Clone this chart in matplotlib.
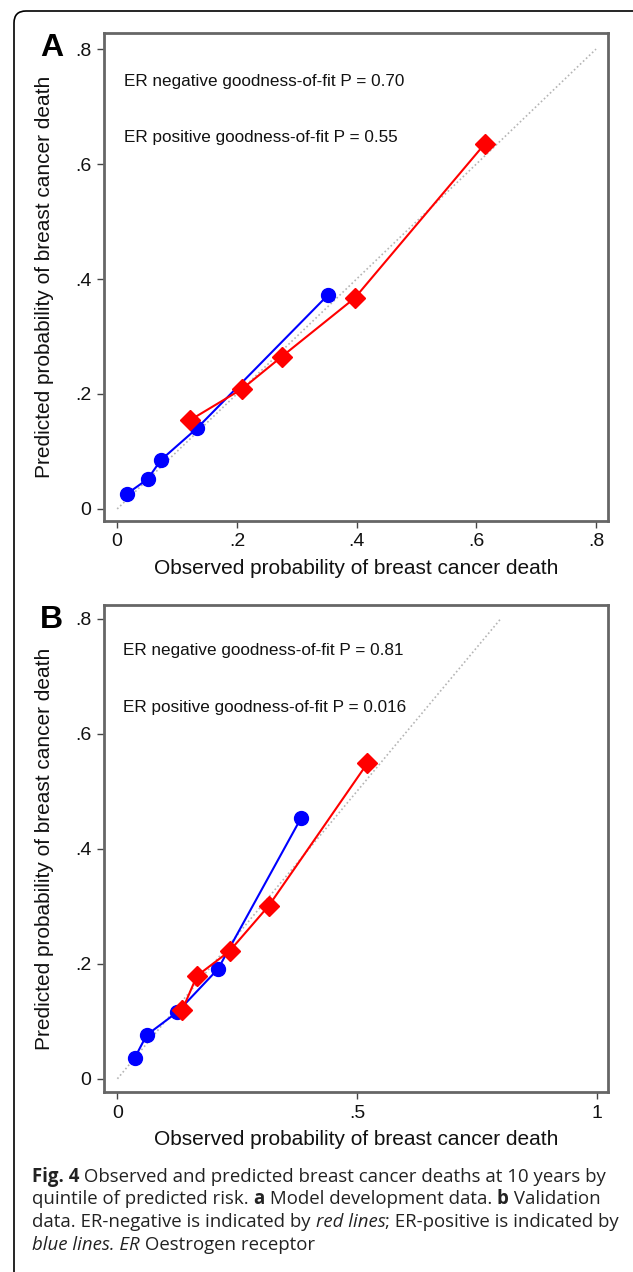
#!/usr/bin/env python
"""
Calibration plots: observed vs predicted breast cancer deaths (panels A and B).
"""

import matplotlib
matplotlib.use("Agg")
import matplotlib.pyplot as plt
from matplotlib.patches import FancyBboxPatch
from matplotlib.transforms import IdentityTransform

# panel A - model development data
a_pos_obs = [0.016, 0.051, 0.073, 0.133, 0.352]
a_pos_pred = [0.026, 0.052, 0.085, 0.140, 0.372]
a_neg_obs = [0.121, 0.209, 0.275, 0.397, 0.614]
a_neg_pred = [0.154, 0.209, 0.265, 0.367, 0.635]
a_xticks = [0, 0.2, 0.4, 0.6, 0.8]
a_xlabels = ["0", ".2", ".4", ".6", ".8"]
a_ptext = ["ER negative goodness-of-fit P = 0.70", "ER positive goodness-of-fit P = 0.55"]

# panel B - validation data
b_pos_obs = [0.036, 0.061, 0.125, 0.210, 0.383]
b_pos_pred = [0.036, 0.076, 0.116, 0.191, 0.453]
b_neg_obs = [0.135, 0.166, 0.234, 0.316, 0.522]
b_neg_pred = [0.119, 0.179, 0.222, 0.301, 0.549]
b_xticks = [0, 0.5, 1]
b_xlabels = ["0", ".5", "1"]
b_ptext = ["ER negative goodness-of-fit P = 0.81", "ER positive goodness-of-fit P = 0.016"]

yticks = [0, 0.2, 0.4, 0.6, 0.8]
ylabels = ["0", ".2", ".4", ".6", ".8"]
diag = [0, 0.8]

caption = [
    [("Fig. 4", "bold"), (" Observed and predicted breast cancer deaths at 10 years by", None)],
    [("quintile of predicted risk. ", None), ("a", "bold"), (" Model development data. ", None),
     ("b", "bold"), (" Validation", None)],
    [("data. ER-negative is indicated by ", None), ("red lines", "italic"),
     ("; ER-positive is indicated by", None)],
    [("blue lines. ER", "italic"), (" Oestrogen receptor", None)],
]

W, H = 633, 1272
FONT = "Liberation Sans"
CAPFONT = "Open Sans"


def panel(fig, rect, letter, pos_obs, pos_pred, neg_obs, neg_pred, xticks, xlabels, xlim, ylim, ptext):
    ax = fig.add_axes(rect)
    ax.plot(diag, diag, color="#b5b5b5", linestyle=(0, (1, 1.5)), lw=1.2, zorder=1)
    ax.plot(pos_obs, pos_pred, color="#0000ff", lw=1.5, marker="o", ms=10, zorder=2)
    ax.plot(neg_obs, neg_pred, color="#ff0000", lw=1.5, marker="D", ms=10, zorder=3)
    ax.set_xlim(*xlim)
    ax.set_ylim(*ylim)
    ax.set_xticks(xticks)
    ax.set_xticklabels(xlabels)
    ax.set_yticks(yticks)
    ax.set_yticklabels(ylabels)
    ax.tick_params(direction="out", length=5, width=1, color="#444444", pad=4,
                   labelsize=14, labelcolor="#111111")
    for lab in ax.get_xticklabels() + ax.get_yticklabels():
        lab.set_family(FONT)
    for s in ax.spines.values():
        s.set_color("#666666")
        s.set_linewidth(2)
    ax.set_xlabel("Observed probability of breast cancer death", family=FONT, fontsize=15, color="#111111")
    ax.set_ylabel("Predicted probability of breast cancer death", family=FONT, fontsize=15, color="#111111")
    ax.xaxis.set_label_coords(0.5, -0.078)
    ax.yaxis.set_label_coords(-0.1, 0.5)
    ax.text(0.011, 0.744, ptext[0], family=FONT, fontsize=12.3, va="center", color="#111111")
    ax.text(0.011, 0.646, ptext[1], family=FONT, fontsize=12.3, va="center", color="#111111")
    ax.text(-0.127, 1.0, letter, transform=ax.transAxes, family=FONT, fontsize=23,
            fontweight="bold", va="top", ha="left")
    return ax


def caption_kw(style, size):
    kw = dict(fontsize=size, color="#222222", family=CAPFONT, va="baseline", ha="left")
    if style == "bold":
        kw["fontweight"] = "bold"
    if style == "italic":
        kw["fontstyle"] = "italic"
    return kw


def main():
    fig = plt.figure(figsize=(W / 100, H / 100), dpi=100)

    # outer rounded frame, cut by the right and bottom edges
    box = FancyBboxPatch((14, -30), 660, H - 11 + 30, boxstyle="round,pad=0,rounding_size=12",
                         transform=IdentityTransform(), facecolor="none", edgecolor="black", lw=1.2)
    fig.patches.append(box)

    panel(fig, [104 / W, 1 - 521 / H, 504 / W, 488 / H], "A",
          a_pos_obs, a_pos_pred, a_neg_obs, a_neg_pred, a_xticks, a_xlabels,
          (-0.022, 0.82), (-0.021, 0.828), a_ptext)
    panel(fig, [104 / W, 1 - 1092 / H, 504 / W, 487 / H], "B",
          b_pos_obs, b_pos_pred, b_neg_obs, b_neg_pred, b_xticks, b_xlabels,
          (-0.028, 1.024), (-0.023, 0.824), b_ptext)

    renderer = fig.canvas.get_renderer()

    def width_of(line, size):
        w = 0
        for txt, style in line:
            t = fig.text(0, 0, txt, **caption_kw(style, size))
            w += t.get_window_extent(renderer).width
            t.remove()
        return w

    # fit the widest caption line (third) to the reference width
    size = 13 * 583 / width_of(caption[2], 13)

    x0, base0, step = 32, 1182, 22.5
    for i, line in enumerate(caption):
        x = x0
        for txt, style in line:
            t = fig.text(x / W, 1 - (base0 + i * step) / H, txt, **caption_kw(style, size))
            x += t.get_window_extent(renderer).width
    fig.savefig("out.png", dpi=100)


if __name__ == "__main__":
    main()
